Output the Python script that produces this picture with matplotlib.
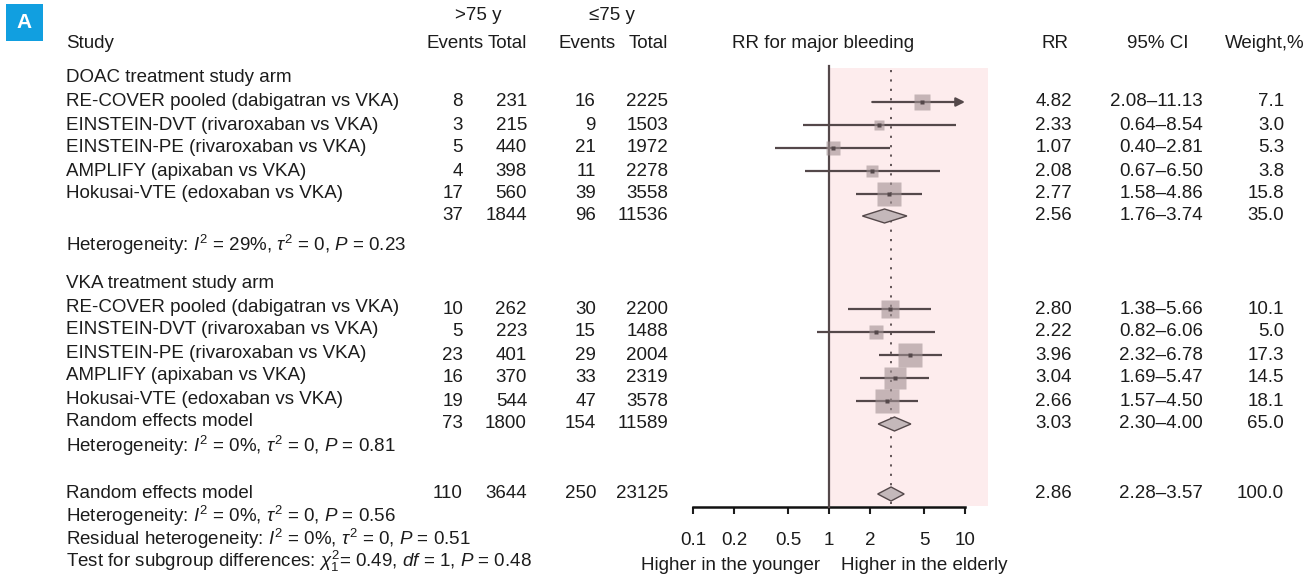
import matplotlib.pyplot as plt
import numpy as np
from matplotlib.patches import Polygon, Rectangle
from matplotlib.ticker import FixedLocator, NullLocator
from matplotlib.transforms import blended_transform_factory

plt.rcParams['font.family'] = ['Liberation Sans', 'DejaVu Sans']
plt.rcParams['mathtext.fontset'] = 'custom'
plt.rcParams['mathtext.rm'] = 'Liberation Sans'
plt.rcParams['mathtext.it'] = 'Liberation Sans:italic'

# --- data -----------------------------------------------------------------
studies = [
    "RE-COVER pooled (dabigatran vs VKA)",
    "EINSTEIN-DVT (rivaroxaban vs VKA)",
    "EINSTEIN-PE (rivaroxaban vs VKA)",
    "AMPLIFY (apixaban vs VKA)",
    "Hokusai-VTE (edoxaban vs VKA)",
]

# DOAC arm: events/total in >75 y and <=75 y, RR with 95% CI, weight %
doac_ev_old = [8, 3, 5, 4, 17]
doac_n_old = [231, 215, 440, 398, 560]
doac_ev_young = [16, 9, 21, 11, 39]
doac_n_young = [2225, 1503, 1972, 2278, 3558]
doac_rr = [4.82, 2.33, 1.07, 2.08, 2.77]
doac_lo = [2.08, 0.64, 0.40, 0.67, 1.58]
doac_hi = [11.13, 8.54, 2.81, 6.50, 4.86]
doac_w = [7.1, 3.0, 5.3, 3.8, 15.8]
doac_pool = dict(ev_old=37, n_old=1844, ev_young=96, n_young=11536,
                 rr=2.56, lo=1.76, hi=3.74, w=35.0)

# VKA arm
vka_ev_old = [10, 5, 23, 16, 19]
vka_n_old = [262, 223, 401, 370, 544]
vka_ev_young = [30, 15, 29, 33, 47]
vka_n_young = [2200, 1488, 2004, 2319, 3578]
vka_rr = [2.80, 2.22, 3.96, 3.04, 2.66]
vka_lo = [1.38, 0.82, 2.32, 1.69, 1.57]
vka_hi = [5.66, 6.06, 6.78, 5.47, 4.50]
vka_w = [10.1, 5.0, 17.3, 14.5, 18.1]
vka_pool = dict(ev_old=73, n_old=1800, ev_young=154, n_young=11589,
                rr=3.03, lo=2.30, hi=4.00, w=65.0)

overall = dict(ev_old=110, n_old=3644, ev_young=250, n_young=23125,
               rr=2.86, lo=2.28, hi=3.57, w=100.0)

tick_vals = [0.1, 0.2, 0.5, 1, 2, 5, 10]
tick_labels = ["0.1", "0.2", "0.5", "1", "2", "5", "10"]

# --- layout (pixel units) ---------------------------------------------------
W, H = 1314, 577
X_ONE, PX_DEC = 829, 136           # where RR=1 sits, pixels per decade
AXIS_Y = 507
PINK_RIGHT = 988
FS = 13.5
INK = "#1c1c1c"
LINE = "#54484a"
SQ = "#a09092"
PINK = "#fdeced"

doac_rows = [102, 125, 148, 171, 194]
doac_pool_y = 216
vka_rows = [309, 332, 355, 378, 401]
vka_pool_y = 424
overall_y = 494

col_study = 66
col_ev_old, col_n_old = 463, 527
col_ev_young, col_n_young = 596, 668
col_rr, col_ci, col_w = 1072, 1203, 1284

fig = plt.figure(figsize=(W / 100, H / 100), dpi=100)
ax = fig.add_axes([0, 0, 1, 1])
ax.set_xscale('log')
ax.set_xlim(10 ** ((0 - X_ONE) / PX_DEC), 10 ** ((W - X_ONE) / PX_DEC))
ax.set_ylim(H, 0)
for s in ('left', 'right', 'top'):
    ax.spines[s].set_visible(False)
ax.yaxis.set_visible(False)

tr = blended_transform_factory(ax.transAxes, ax.transData)


def put(x, y, s, ha='left', size=FS, **kw):
    ax.text(x / W, y, s, ha=ha, va='center', transform=tr, fontsize=size,
            color=kw.pop('color', INK), **kw)


def numbers(y, ev_old, n_old, ev_young, n_young, rr, lo, hi, w):
    put(col_ev_old, y, f"{ev_old}", ha='right')
    put(col_n_old, y, f"{n_old}", ha='right')
    put(col_ev_young, y, f"{ev_young}", ha='right')
    put(col_n_young, y, f"{n_young}", ha='right')
    put(col_rr, y, f"{rr:.2f}", ha='right')
    put(col_ci, y, f"{lo:.2f}\u2013{hi:.2f}", ha='right')
    put(col_w, y, f"{w:.1f}", ha='right')


def study_mark(y, rr, lo, hi, w):
    if hi > tick_vals[-1]:
        ax.annotate('', xy=(tick_vals[-1], y), xytext=(lo, y),
                    arrowprops=dict(arrowstyle='-|>', color=LINE, lw=1.6,
                                    mutation_scale=13, shrinkA=0, shrinkB=0),
                    zorder=4)
    else:
        ax.plot([lo, hi], [y, y], color=LINE, lw=1.6, zorder=4,
                solid_capstyle='butt')
    ax.plot(rr, y, marker='s', ms=4.2 * np.sqrt(w), color=SQ, alpha=0.6,
            mec='none', zorder=5)
    ax.plot(rr, y, marker='s', ms=2.6, color=LINE, mec='none', zorder=6)


def diamond(y, rr, lo, hi):
    ax.add_patch(Polygon([(lo, y), (rr, y - 7), (hi, y), (rr, y + 7)],
                         closed=True, fc="#c4b8ba", ec=LINE, lw=1.0, zorder=5))


# shaded "higher in the elderly" region and reference lines
ax.fill_between([1, 10 ** ((PINK_RIGHT - X_ONE) / PX_DEC)], 68, AXIS_Y - 1,
                color=PINK, lw=0, zorder=0)
ax.plot([1, 1], [66, AXIS_Y], color=LINE, lw=1.6, zorder=3)
ax.plot([overall['rr']] * 2, [70, AXIS_Y - 3], color=LINE, lw=1.3,
        ls=(0, (1.2, 4)), zorder=2)

# x axis
ax.spines['bottom'].set_position(('data', AXIS_Y))
ax.spines['bottom'].set_bounds(tick_vals[0], tick_vals[-1])
ax.spines['bottom'].set_linewidth(1.8)
ax.spines['bottom'].set_color("#111111")
ax.xaxis.set_major_locator(FixedLocator(tick_vals))
ax.xaxis.set_minor_locator(NullLocator())
ax.set_xticklabels(tick_labels)
ax.tick_params(axis='x', direction='out', length=5, width=1.5, pad=13,
               labelsize=FS, colors=INK)

# headers
put(478, 15, ">75 y", ha='center')
put(612, 15, "\u226475 y", ha='center')
put(col_study, 43, "Study")
put(426, 43, "Events")
put(col_n_old, 43, "Total", ha='right')
put(558, 43, "Events")
put(col_n_young, 43, "Total", ha='right')
put(823, 43, "RR for major bleeding", ha='center')
put(1055, 43, "RR", ha='center')
put(1158, 43, "95% CI", ha='center')
put(1265, 43, "Weight,%", ha='center')

# DOAC arm
put(col_study, 78, "DOAC treatment study arm")
for i, y in enumerate(doac_rows):
    put(col_study, y, studies[i])
    numbers(y, doac_ev_old[i], doac_n_old[i], doac_ev_young[i], doac_n_young[i],
            doac_rr[i], doac_lo[i], doac_hi[i], doac_w[i])
    study_mark(y, doac_rr[i], doac_lo[i], doac_hi[i], doac_w[i])
numbers(doac_pool_y, **doac_pool)
diamond(doac_pool_y, doac_pool['rr'], doac_pool['lo'], doac_pool['hi'])
put(col_study, 245, r"Heterogeneity: $I^2$ = 29%, $\tau^2$ = 0, $P$ = 0.23")

# VKA arm
put(col_study, 283, "VKA treatment study arm")
for i, y in enumerate(vka_rows):
    put(col_study, y - 2, studies[i])
    numbers(y, vka_ev_old[i], vka_n_old[i], vka_ev_young[i], vka_n_young[i],
            vka_rr[i], vka_lo[i], vka_hi[i], vka_w[i])
    study_mark(y, vka_rr[i], vka_lo[i], vka_hi[i], vka_w[i])
put(col_study, vka_pool_y - 2, "Random effects model")
numbers(vka_pool_y, **vka_pool)
diamond(vka_pool_y, vka_pool['rr'], vka_pool['lo'], vka_pool['hi'])
put(col_study, 446, r"Heterogeneity: $I^2$ = 0%, $\tau^2$ = 0, $P$ = 0.81")

# overall
put(col_study, overall_y - 1, "Random effects model")
numbers(overall_y, **overall)
diamond(overall_y, overall['rr'], overall['lo'], overall['hi'])
put(col_study, 516, r"Heterogeneity: $I^2$ = 0%, $\tau^2$ = 0, $P$ = 0.56")
put(col_study, 539, r"Residual heterogeneity: $I^2$ = 0%, $\tau^2$ = 0, $P$ = 0.51")
put(col_study, 561, r"Test for subgroup differences: $\chi^2_1$= 0.49, $df$ = 1, $P$ = 0.48")

put(731, 565, "Higher in the younger", ha='center')
put(924, 565, "Higher in the elderly", ha='center')

# panel letter
fig.patches.append(Rectangle((6 / W, 1 - 41 / H), 37 / W, 37 / H,
                             transform=fig.transFigure, fc="#119fe0", ec='none'))
fig.text(24.5 / W, 1 - 22.5 / H, "A", ha='center', va='center', color='white',
         fontsize=15, fontweight='bold', family=['Liberation Sans', 'DejaVu Sans'])

fig.savefig("out.png", dpi=100)
